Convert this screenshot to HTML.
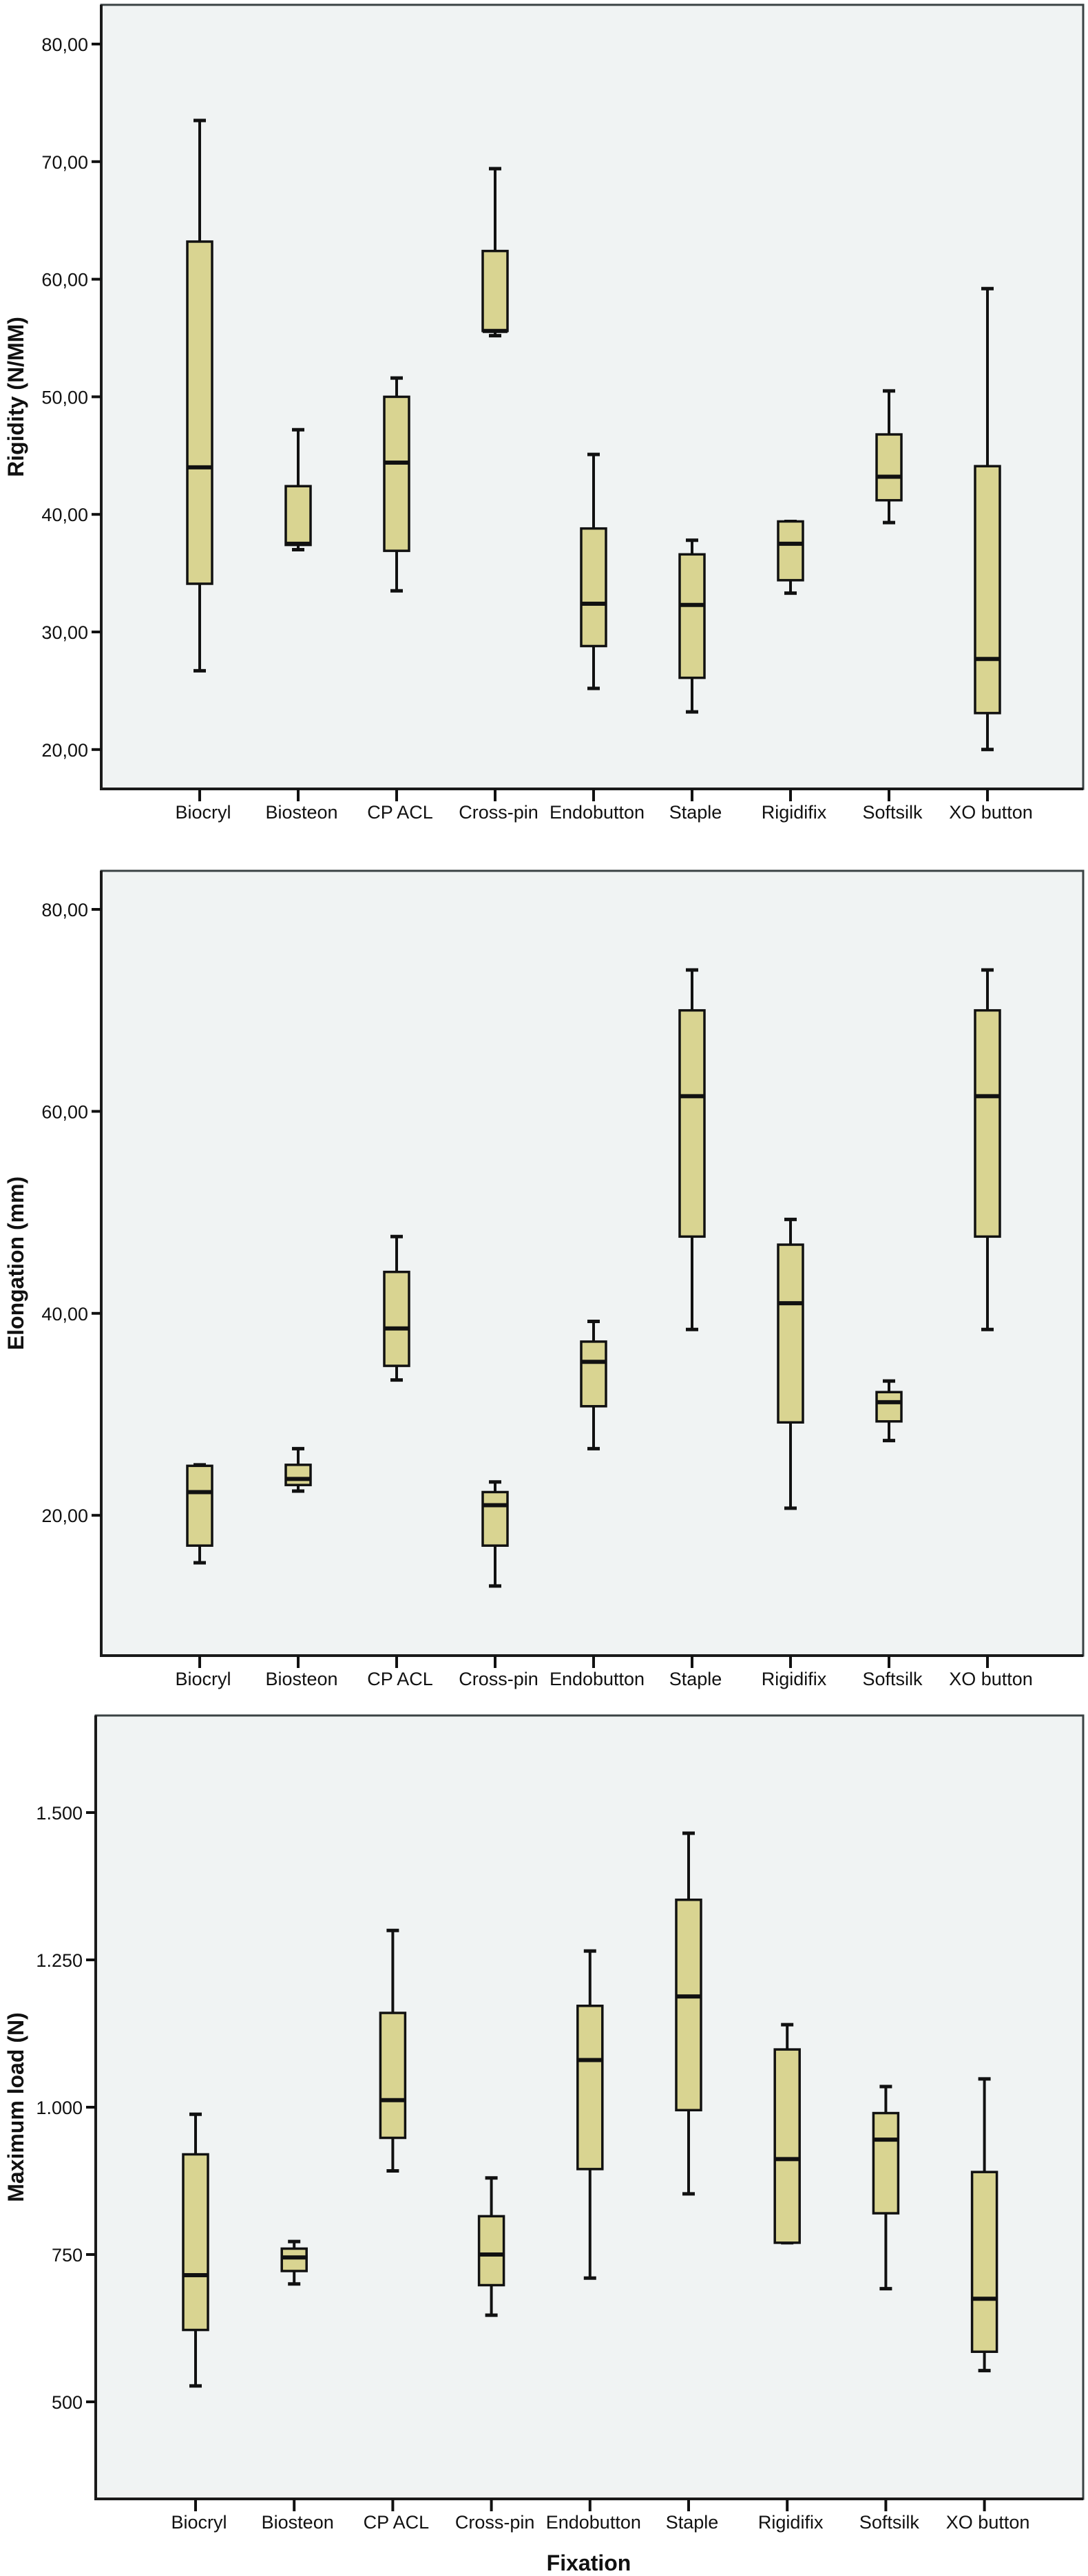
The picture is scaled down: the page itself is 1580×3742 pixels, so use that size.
<!DOCTYPE html>
<html><head><meta charset="utf-8"><style>
html,body{margin:0;padding:0;background:#fff;}
svg{display:block;}
text{font-family:"Liberation Sans",Arial,sans-serif;fill:#111;}
.t{font-size:27px;}
.ttl{font-family:"Liberation Sans Narrow","Liberation Sans",sans-serif;font-weight:bold;font-size:32px;}
</style></head><body>
<svg id="chart" width="1580" height="3742" viewBox="0 0 1580 3742"></svg>
<script>
const categories = ["Biocryl","Biosteon","CP ACL","Cross-pin","Endobutton","Staple","Rigidifix","Softsilk","XO button"];
// rigidity: [min, q1, median, q3, max]
const rigidityMin = [26.7,37.0,33.5,55.2,25.2,23.2,33.3,39.3,20.0];
const rigidityQ1  = [34.1,37.4,36.9,55.6,28.8,26.1,34.4,41.2,23.1];
const rigidityMed = [44.0,37.5,44.4,55.6,32.4,32.3,37.5,43.2,27.7];
const rigidityQ3  = [63.2,42.4,50.0,62.4,38.8,36.6,39.4,46.8,44.1];
const rigidityMax = [73.5,47.2,51.6,69.4,45.1,37.8,39.4,50.5,59.2];
const rigidityTicks = [20,30,40,50,60,70,80];
const rigidityTickLabels = ["20,00","30,00","40,00","50,00","60,00","70,00","80,00"];

const elongMin = [15.3,22.4,33.4,13.0,26.6,38.4,20.7,27.4,38.4];
const elongQ1  = [17.0,23.0,34.8,17.0,30.8,47.6,29.2,29.3,47.6];
const elongMed = [22.3,23.6,38.5,21.0,35.2,61.5,41.0,31.2,61.5];
const elongQ3  = [24.9,25.0,44.1,22.3,37.2,70.0,46.8,32.2,70.0];
const elongMax = [25.0,26.6,47.6,23.3,39.2,74.0,49.3,33.3,74.0];
const elongTicks = [20,40,60,80];
const elongTickLabels = ["20,00","40,00","60,00","80,00"];

const loadMin = [527,700,892,647,710,853,770,692,553];
const loadQ1  = [622,722,948,698,895,995,770,820,585];
const loadMed = [715,745,1012,750,1080,1188,912,945,675];
const loadQ3  = [920,760,1160,815,1172,1352,1098,990,890];
const loadMax = [988,772,1300,880,1265,1465,1140,1035,1048];
const loadTicks = [500,750,1000,1250,1500];
const loadTickLabels = ["500","750","1.000","1.250","1.500"];

const NS="http://www.w3.org/2000/svg";
const svg=document.getElementById('chart');
function mk(tag,attrs,parent){const e=document.createElementNS(NS,tag);for(const k in attrs)e.setAttribute(k,attrs[k]);(parent||svg).appendChild(e);return e;}

function panel(cfg){
  const g=mk('g',{});
  
  
  const yScale=v=>cfg.yRefPix+(cfg.yRefVal-v)*cfg.pxPerUnit;
  const xScale=i=>cfg.x0+i*cfg.dx;
  const bg=mk('rect',{x:cfg.left,y:cfg.top,width:cfg.right-cfg.left,height:cfg.bottom-cfg.top,fill:'#f0f3f3',stroke:'#3a4243','stroke-width':3},g);
  
  
  const ax=mk('path',{d:`M${cfg.left},${cfg.top} V${cfg.bottom} H${cfg.right}`,fill:'none',stroke:'#1a1a1a','stroke-width':4},g);
  
  
  cfg.ticks.forEach((t,i)=>{
    const y=yScale(t);
    const tk=mk('line',{x1:cfg.left-14,x2:cfg.left,y1:y,y2:y,stroke:'#111','stroke-width':4},g);
    
    
    const tl=mk('text',{x:cfg.left-19,y:y+10,'text-anchor':'end',class:'t'},g);
    tl.textContent=cfg.tickLabels[i];
    
    
  });
  categories.forEach((c,i)=>{
    const x=xScale(i);
    const tk=mk('line',{x1:x,x2:x,y1:cfg.bottom,y2:cfg.bottom+18,stroke:'#111','stroke-width':4},g);
    
    
    const lb=mk('text',{x:x+5,y:cfg.bottom+43,'text-anchor':'middle',class:'t'},g);
    lb.textContent=c;
    
    
    const bx=mk('g',{},g);
    
    
    const yMin=yScale(cfg.min[i]),yQ1=yScale(cfg.q1[i]),yMed=yScale(cfg.med[i]),yQ3=yScale(cfg.q3[i]),yMax=yScale(cfg.max[i]);
    mk('line',{x1:x,x2:x,y1:yMax,y2:yQ3,stroke:'#111','stroke-width':4},bx);
    mk('line',{x1:x,x2:x,y1:yQ1,y2:yMin,stroke:'#111','stroke-width':4},bx);
    mk('line',{x1:x-9,x2:x+9,y1:yMax,y2:yMax,stroke:'#111','stroke-width':5},bx);
    mk('line',{x1:x-9,x2:x+9,y1:yMin,y2:yMin,stroke:'#111','stroke-width':5},bx);
    mk('rect',{x:x-18,y:yQ3,width:36,height:Math.max(yQ1-yQ3,1),fill:'#d9d491',stroke:'#111','stroke-width':3.5},bx);
    mk('line',{x1:x-18,x2:x+18,y1:yMed,y2:yMed,stroke:'#111','stroke-width':6},bx);
  });
  const yt=mk('text',{x:0,y:0,'text-anchor':'middle',class:'ttl',transform:`translate(${cfg.titleX},${(cfg.top+cfg.bottom)/2}) rotate(-90)`},g);
  yt.textContent=cfg.title;
  
  
}

panel({name:'rigidity-panel',left:147,right:1573,top:7,bottom:1146,x0:290,dx:143,yRefVal:80,yRefPix:64,pxPerUnit:17.08,
  ticks:rigidityTicks,tickLabels:rigidityTickLabels,min:rigidityMin,q1:rigidityQ1,med:rigidityMed,q3:rigidityQ3,max:rigidityMax,
  title:'Rigidity (N/MM)',titleX:34});
panel({name:'elongation-panel',left:147,right:1573,top:1265,bottom:2405,x0:290,dx:143,yRefVal:80,yRefPix:1321,pxPerUnit:14.67,
  ticks:elongTicks,tickLabels:elongTickLabels,min:elongMin,q1:elongQ1,med:elongMed,q3:elongQ3,max:elongMax,
  title:'Elongation (mm)',titleX:34});
panel({name:'max-load-panel',left:139,right:1573,top:2492,bottom:3630,x0:284,dx:143.2,yRefVal:500,yRefPix:3489,pxPerUnit:0.856,
  ticks:loadTicks,tickLabels:loadTickLabels,min:loadMin,q1:loadQ1,med:loadMed,q3:loadQ3,max:loadMax,
  title:'Maximum load (N)',titleX:34});

const fx=mk('text',{x:855,y:3734,'text-anchor':'middle',class:'ttl'});
fx.textContent='Fixation';


</script>
</body></html>
